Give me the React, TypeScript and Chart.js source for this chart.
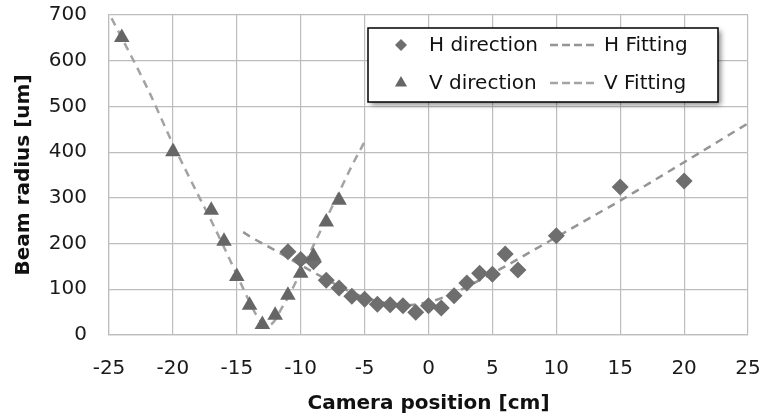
import React, { useEffect, useRef } from 'react';
import { Chart, registerables } from 'chart.js';

Chart.register(...registerables);

const hDirX = [-11, -10, -9, -8, -7, -6, -5, -4, -3, -2, -1, 0, 1, 2, 3, 4, 5, 6, 7, 10, 15, 20];
const hDirY = [182, 165, 160, 120, 103, 85, 78, 67, 66, 64, 50, 64, 59, 86, 114, 135, 133, 177, 142, 217, 324, 337];

const vDirX = [-24, -20, -17, -16, -15, -14, -13, -12, -11, -10, -9, -8, -7];
const vDirY = [651, 401, 273, 205, 128, 65, 23, 43, 87, 135, 173, 247, 295];

// Fitting curves
const hFitX = [-14.5, -14, -12, -10, -8, -6, -4, -2, 0, 2, 4, 6, 8, 10, 12, 15, 20, 25];
const hFitY = [225, 216, 185, 153, 122, 93, 74, 65, 72, 92, 120, 150, 182, 214, 246, 294, 378, 463];

const vFitX = [-24.8, -22, -20, -18, -17, -16, -15, -14, -13.5, -13, -12.7, -12.4, -12, -11.5, -11, -10, -9, -8, -7, -6, -4.9];
const vFitY = [693, 540, 418, 305, 250, 192, 132, 72, 45, 27, 21, 22, 33, 58, 82, 138, 196, 254, 312, 370, 428];

const xMin = -25, xMax = 25, xStep = 5;
const yMin = 0, yMax = 700, yStep = 100;

const xTitle = 'Camera position [cm]';
const yTitle = 'Beam radius [um]';

const labels = ['H direction', 'V direction', 'H Fitting', 'V Fitting'];

const pts = (xs: number[], ys: number[]) => xs.map((x, i) => ({ x, y: ys[i] }));

const FONT = "'DejaVu Sans', Verdana, sans-serif";

export default function App() {
  const ref = useRef<HTMLCanvasElement>(null);

  useEffect(() => {
    document.body.style.margin = '0';
    const canvas = ref.current!;

    const legendPlugin = {
      id: 'boxLegend',
      afterDraw(chart: any) {
        const c = chart.ctx as CanvasRenderingContext2D;
        const ds = chart.data.datasets;
        const bx = 368, by = 28, bw = 350, bh = 74;
        c.save();
        c.shadowColor = 'rgba(0,0,0,0.45)';
        c.shadowBlur = 5;
        c.shadowOffsetX = 3;
        c.shadowOffsetY = 3;
        c.fillStyle = '#ffffff';
        c.fillRect(bx, by, bw, bh);
        c.shadowColor = 'rgba(0,0,0,0)';
        c.shadowBlur = 0;
        c.shadowOffsetX = 0;
        c.shadowOffsetY = 0;
        c.strokeStyle = '#000000';
        c.lineWidth = 1.5;
        c.strokeRect(bx, by, bw, bh);

        c.font = `20px ${FONT}`;
        c.textBaseline = 'middle';
        c.textAlign = 'left';
        const rows = [45, 83];
        for (let r = 0; r < 2; r++) {
          const d = ds[r];
          const y = rows[r];
          const mx = 401;
          c.fillStyle = d.backgroundColor;
          c.beginPath();
          if (d.pointStyle === 'rectRot') {
            const s = 6;
            c.moveTo(mx - s, y);
            c.lineTo(mx, y - s);
            c.lineTo(mx + s, y);
            c.lineTo(mx, y + s);
          } else {
            const s = 7;
            c.moveTo(mx, y - s);
            c.lineTo(mx + s * 0.866, y + s * 0.5);
            c.lineTo(mx - s * 0.866, y + s * 0.5);
          }
          c.closePath();
          c.fill();
          c.fillStyle = '#111111';
          c.fillText(d.label, 429, y + 1);
        }
        for (let r = 0; r < 2; r++) {
          const d = ds[r + 2];
          const y = rows[r];
          c.strokeStyle = d.borderColor;
          c.lineWidth = d.borderWidth;
          c.setLineDash([8, 4]);
          c.beginPath();
          c.moveTo(550, y);
          c.lineTo(598, y);
          c.stroke();
          c.setLineDash([]);
          c.fillStyle = '#111111';
          c.fillText(d.label, 604, y + 1);
        }
        c.restore();
      },
    };

    const chart = new Chart(canvas, {
      type: 'scatter',
      data: {
        datasets: [
          {
            label: labels[0],
            data: pts(hDirX, hDirY),
            pointStyle: 'rectRot',
            pointRadius: 8.5,
            pointHoverRadius: 8.5,
            backgroundColor: '#6e6e6e',
            borderColor: '#6e6e6e',
            borderWidth: 0,
            showLine: false,
            order: 2,
          },
          {
            label: labels[1],
            data: pts(vDirX, vDirY),
            pointStyle: 'triangle',
            pointRadius: 9,
            pointHoverRadius: 9,
            backgroundColor: '#666666',
            borderColor: '#666666',
            borderWidth: 0,
            showLine: false,
            order: 1,
          },
          {
            label: labels[2],
            data: pts(hFitX, hFitY),
            showLine: true,
            pointRadius: 0,
            borderColor: '#959595',
            backgroundColor: '#959595',
            borderWidth: 2.5,
            borderDash: [8, 6],
            cubicInterpolationMode: 'monotone',
            order: 3,
          },
          {
            label: labels[3],
            data: pts(vFitX, vFitY),
            showLine: true,
            pointRadius: 0,
            borderColor: '#a3a3a3',
            backgroundColor: '#a3a3a3',
            borderWidth: 2.5,
            borderDash: [8, 6],
            cubicInterpolationMode: 'monotone',
            order: 4,
          },
        ] as any,
      },
      options: {
        responsive: false,
        animation: false,
        layout: { padding: { top: 15, right: 17, left: 0, bottom: 0 } },
        plugins: {
          legend: { display: false },
          tooltip: { enabled: false },
        },
        scales: {
          x: {
            type: 'linear',
            min: xMin,
            max: xMax,
            ticks: {
              stepSize: xStep,
              padding: 22,
              color: '#1a1a1a',
              font: { family: FONT, size: 20 },
            },
            grid: { color: '#bdbdbd', lineWidth: 1.2, drawTicks: false },
            border: { color: '#bdbdbd', width: 1.2 },
            title: {
              display: true,
              text: xTitle,
              color: '#111111',
              font: { family: FONT, size: 20, weight: 'bold' },
              padding: { top: 0, bottom: 2 },
            },
            afterFit: (s: any) => {
              s.height = 83;
              s.paddingLeft = 0;
              s.paddingRight = 0;
              s.paddingTop = 0;
              s.paddingBottom = 0;
            },
          },
          y: {
            type: 'linear',
            min: yMin,
            max: yMax,
            ticks: {
              stepSize: yStep,
              padding: 22,
              color: '#1a1a1a',
              font: { family: FONT, size: 20 },
            },
            grid: { color: '#bdbdbd', lineWidth: 1.2, drawTicks: false },
            border: { color: '#bdbdbd', width: 1.2 },
            title: {
              display: true,
              text: yTitle,
              color: '#111111',
              font: { family: FONT, size: 20, weight: 'bold' },
              padding: { top: 12, bottom: 0 },
            },
            afterFit: (s: any) => {
              s.width = 109;
              s.paddingLeft = 0;
              s.paddingRight = 0;
              s.paddingTop = 0;
              s.paddingBottom = 0;
            },
          },
        },
      } as any,
      plugins: [legendPlugin],
    });

    return () => chart.destroy();
  }, []);

  return <canvas ref={ref} width={765} height={418} style={{ display: 'block' }} />;
}
